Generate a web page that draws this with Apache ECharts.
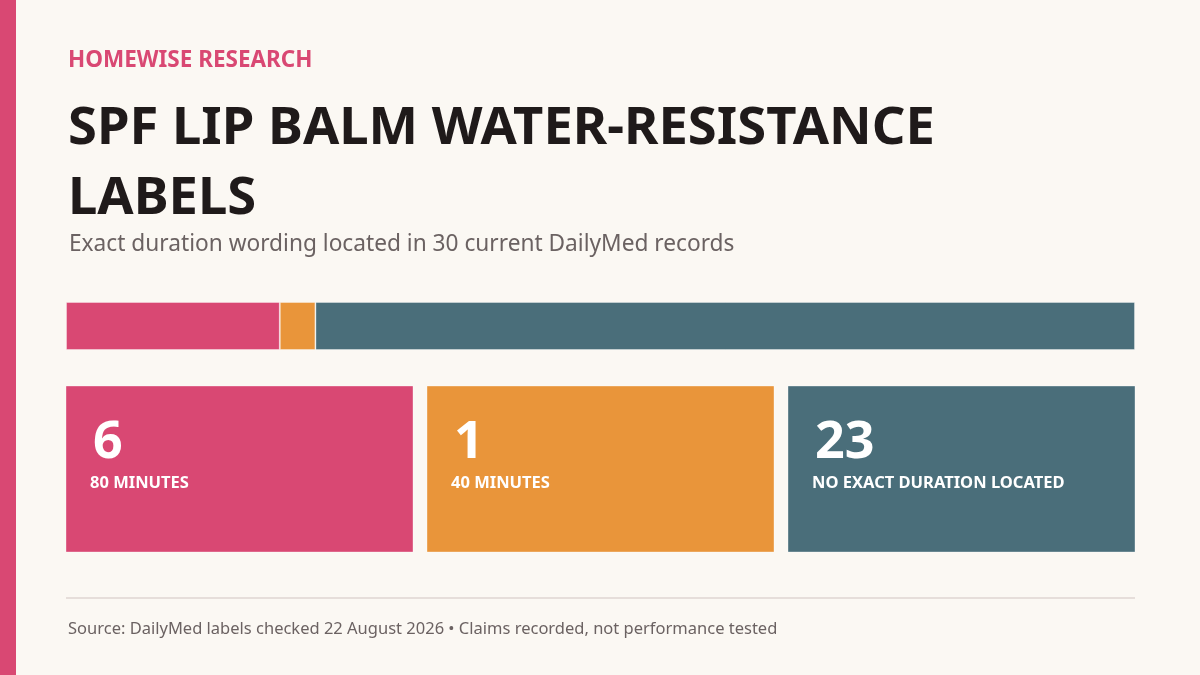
<!DOCTYPE html>
<html>
<head>
<meta charset="utf-8">
<style>
  html, body { margin: 0; padding: 0; background: #FBF8F3; }
  #main { width: 1200px; height: 675px; }
</style>
<script src="https://cdn.jsdelivr.net/npm/echarts@6/dist/echarts.min.js"></script>
</head>
<body>
<div id="main"></div>
<script>
// Data
var categories = ['80 MINUTES', '40 MINUTES', 'NO EXACT DURATION LOCATED'];
var counts = [6, 1, 23];
var totalRecords = 30;
var colors = ['#D94873', '#E9953A', '#4A6E7A'];

var FONT = '"Noto Sans", "Open Sans", sans-serif';

var chartDom = document.getElementById('main');
var myChart = echarts.init(chartDom, null, { renderer: 'canvas' });

// stacked share bar, one series per category
var barSeries = categories.map(function (name, i) {
  return {
    name: name,
    type: 'bar',
    stack: 'total',
    xAxisIndex: 0,
    yAxisIndex: 0,
    barCategoryGap: 0,
    data: [counts[i]],
    itemStyle: {
      color: colors[i],
      borderColor: 'rgba(255,255,255,0.35)',
      borderWidth: 1
    },
    silent: true
  };
});

// cards, one per category, laid out across a category axis
var cardGap = 14;
var cardSeries = {
  type: 'custom',
  xAxisIndex: 1,
  yAxisIndex: 1,
  silent: true,
  data: categories.map(function (name, i) { return [i, counts[i]]; }),
  renderItem: function (params, api) {
    var cs = params.coordSys;
    var i = api.value(0);
    var w = (cs.width - cardGap * 2) / categories.length;
    var x = cs.x + i * (w + cardGap);
    var y = cs.y;
    return {
      type: 'group',
      children: [
        {
          type: 'rect',
          shape: { x: x, y: y, width: w, height: cs.height },
          style: {
            fill: colors[i],
            stroke: 'rgba(255,255,255,0.35)',
            lineWidth: 1
          }
        },
        {
          type: 'text',
          style: {
            text: String(api.value(1)),
            x: x + 27,
            y: y + 57,
            fill: '#ffffff',
            font: 'bold 52px ' + FONT,
            textVerticalAlign: 'middle'
          }
        },
        {
          type: 'text',
          style: {
            text: categories[i],
            x: x + 24,
            y: y + 97,
            fill: '#ffffff',
            font: 'bold 16.5px ' + FONT,
            textVerticalAlign: 'middle'
          }
        }
      ]
    };
  }
};

var option = {
  backgroundColor: '#FBF8F3',
  animation: false,
  grid: [
    { left: 66, right: 65, top: 302, height: 48 },
    { left: 66, right: 65, top: 386, height: 166 }
  ],
  xAxis: [
    { type: 'value', gridIndex: 0, min: 0, max: totalRecords, show: false },
    { type: 'category', gridIndex: 1, data: categories, show: false }
  ],
  yAxis: [
    { type: 'category', gridIndex: 0, data: ['records'], show: false },
    { type: 'value', gridIndex: 1, min: 0, max: 1, show: false }
  ],
  series: barSeries.concat([cardSeries]),
  graphic: [
    {
      type: 'rect',
      shape: { x: 0, y: 0, width: 16, height: 675 },
      style: { fill: '#D94873' }
    },
    {
      type: 'text',
      style: {
        text: 'HOMEWISE RESEARCH',
        x: 68, y: 61,
        fill: '#D94873',
        font: 'bold 22.5px ' + FONT,
        textVerticalAlign: 'middle'
      }
    },
    {
      type: 'text',
      style: {
        text: 'SPF LIP BALM WATER-RESISTANCE\nLABELS',
        x: 68, y: 164,
        fill: '#1F1A1A',
        font: 'bold 52.5px ' + FONT,
        lineHeight: 70,
        textVerticalAlign: 'middle'
      }
    },
    {
      type: 'text',
      style: {
        text: 'Exact duration wording located in 30 current DailyMed records',
        x: 69, y: 245,
        fill: '#6B6262',
        font: '22.7px ' + FONT,
        textVerticalAlign: 'middle'
      }
    },
    {
      type: 'rect',
      shape: { x: 66, y: 597, width: 1069, height: 2 },
      style: { fill: '#E6DEDA' }
    },
    {
      type: 'text',
      style: {
        text: 'Source: DailyMed labels checked 22 August 2026 \u2022 Claims recorded, not performance tested',
        x: 68, y: 629,
        fill: '#6B6262',
        font: '16.5px ' + FONT,
        textVerticalAlign: 'middle'
      }
    }
  ]
};

myChart.setOption(option);

window.addEventListener('resize', function () {
  myChart.resize();
});
</script>
</body>
</html>
